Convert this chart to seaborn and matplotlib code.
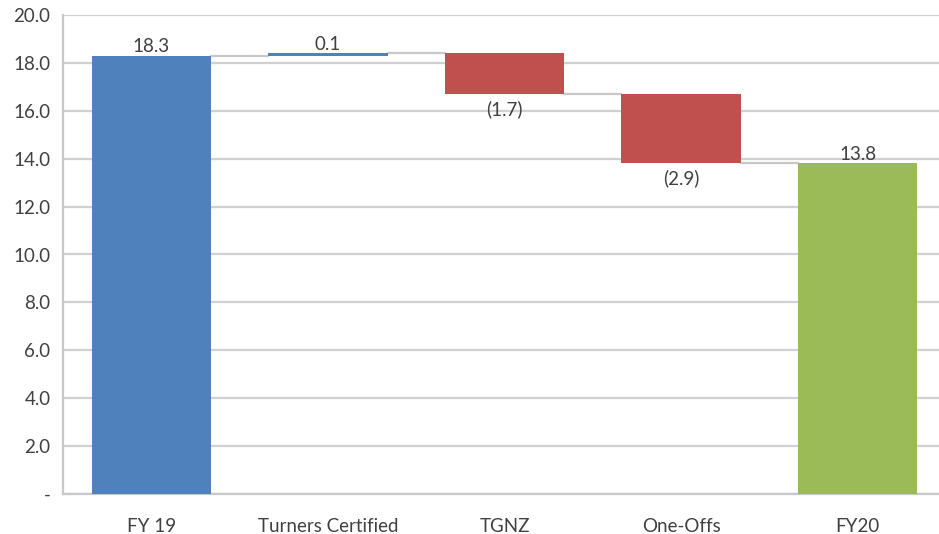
import pandas as pd
import seaborn as sns
import matplotlib.pyplot as plt

# waterfall values
categories = ['FY 19', 'Turners Certified', 'TGNZ', 'One-Offs', 'FY20']
changes = [18.3, 0.1, -1.7, -2.9, 13.8]
kinds = ['total', 'up', 'down', 'down', 'total']
label_text = ['18.3', '0.1', '(1.7)', '(2.9)', '13.8']
y_ticks = [0, 2, 4, 6, 8, 10, 12, 14, 16, 18, 20]
y_tick_labels = ['-', '2.0', '4.0', '6.0', '8.0', '10.0', '12.0', '14.0', '16.0', '18.0', '20.0']

# work out floating bar bottoms
bottoms = []
running = 0.0
for c, k in zip(changes, kinds):
    if k == 'total':
        bottoms.append(0.0)
        running = c
    elif c >= 0:
        bottoms.append(running)
        running += c
    else:
        running += c
        bottoms.append(running)

df = pd.DataFrame({'category': categories, 'height': [abs(c) for c in changes],
                   'bottom': bottoms, 'kind': kinds})
colors = {'total': '#4F81BD', 'up': '#4F81BD', 'down': '#C0504D'}
bar_colors = [colors[k] for k in kinds]
bar_colors[-1] = '#9BBB59'

sns.set_style('white')
plt.rcParams['font.family'] = ['Lato', 'DejaVu Sans']

fig = plt.figure(figsize=(9.39, 5.34), dpi=100)
ax = fig.add_axes([63 / 939, 40 / 534, 883 / 939, 479 / 534])

sns.barplot(data=df, x='category', y='height', bottom=df['bottom'].tolist(),
            color='#4F81BD', saturation=1, width=0.675, ax=ax, zorder=3)
for patch, col in zip(ax.patches, bar_colors):
    patch.set_facecolor(col)
    patch.set_edgecolor('none')

# connector lines: running total after each bar
tops = [b + h for b, h in zip(df['bottom'], df['height'])]
levels = []
running = 0.0
for c, k in zip(changes, kinds):
    running = c if k == 'total' else running + c
    levels.append(running)
for i in range(len(categories) - 1):
    ax.plot([i + 0.3375, i + 1 - 0.3375], [levels[i], levels[i]], color='#c8c8c8', lw=1.6, zorder=2)

# value labels
fs = 13.5
for i, (c, txt) in enumerate(zip(changes, label_text)):
    if c >= 0:
        ax.text(i, tops[i] + 0.02, txt, ha='center', va='bottom', fontsize=fs, color='#404040', zorder=4)
    else:
        ax.text(i, df['bottom'][i] - 0.25, txt, ha='center', va='top', fontsize=fs, color='#404040', zorder=4)

ax.set_ylim(0, 20)
ax.set_xlim(-0.5, 4.5)
ax.set_yticks(y_ticks)
ax.set_yticklabels(y_tick_labels)
ax.yaxis.grid(True, color='#d0d0d0', lw=1.6, zorder=0)
ax.set_axisbelow(True)
ax.set_xlabel('')
ax.set_ylabel('')
ax.tick_params(axis='y', length=0, pad=9, labelsize=fs, labelcolor='#404040')
ax.tick_params(axis='x', length=0, pad=17, labelsize=fs, labelcolor='#404040')
for side in ['top', 'right']:
    ax.spines[side].set_visible(False)
for side in ['left', 'bottom']:
    ax.spines[side].set_color('#c8c8c8')
    ax.spines[side].set_linewidth(1.6)

fig.savefig('out.png', dpi=100)
